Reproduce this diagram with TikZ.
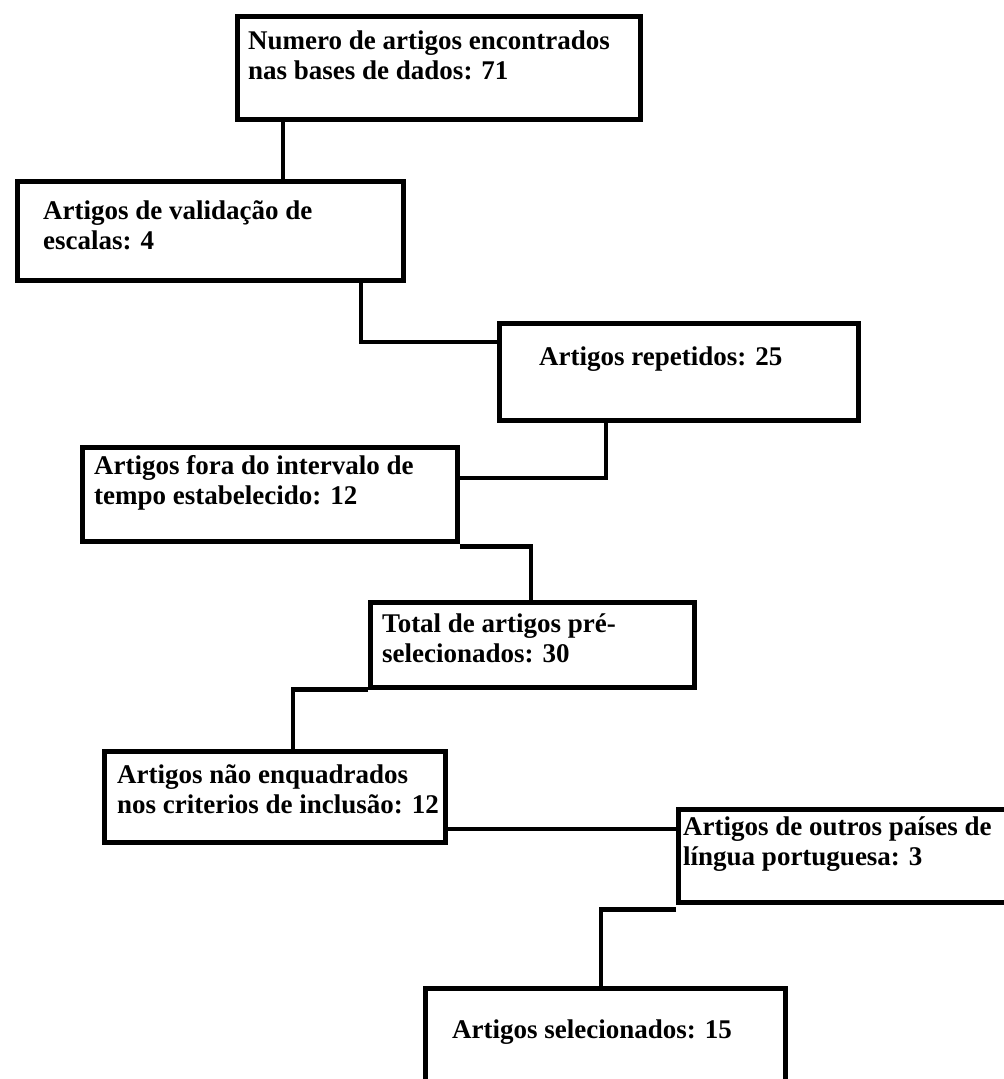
\documentclass[tikz,border=0pt]{standalone}
\usepackage{fontspec}
\setmainfont{Liberation Serif}
\begin{document}
\begin{tikzpicture}[x=1pt,y=-1pt,
  box/.style={draw,line width=4.5pt,rectangle,inner sep=0pt,anchor=north west},
  lbl/.style={anchor=north west,inner sep=0pt,align=left,font=\bfseries\fontsize{27}{30}\selectfont},
  link/.style={line width=4.5pt}]
\useasboundingbox (0,0) rectangle (1004,1079);
\clip (0,0) rectangle (1004,1079);
% boxes
\node[box,minimum width=403pt,minimum height=103pt] (b1) at (235,14) {};
\node[box,minimum width=386pt,minimum height=99pt]  (b2) at (15,179) {};
\node[box,minimum width=359pt,minimum height=97pt]  (b3) at (497,321) {};
\node[box,minimum width=375pt,minimum height=94pt]  (b4) at (80,445) {};
\node[box,minimum width=324pt,minimum height=85pt]  (b5) at (368,600) {};
\node[box,minimum width=341pt,minimum height=91pt]  (b6) at (102,749) {};
\node[box,minimum width=340pt,minimum height=93pt]  (b7) at (676,807) {};
\node[box,minimum width=360pt,minimum height=110pt] (b8) at (423,986) {};
% texts
\node[lbl] (t1) at (248,29)  {\rule{0pt}{20pt}Numero de artigos encontrados\\nas bases de dados: 71};
\node[lbl] (t2) at (43,199)  {\rule{0pt}{20pt}Artigos de validação de\\escalas: 4};
\node[lbl] (t3) at (539,345) {\rule{0pt}{20pt}Artigos repetidos: 25};
\node[lbl] (t4) at (94,454)  {\rule{0pt}{20pt}Artigos fora do intervalo de\\tempo estabelecido: 12};
\node[lbl] (t5) at (382,612) {\rule{0pt}{20pt}Total de artigos pré-\\selecionados: 30};
\node[lbl] (t6) at (117,763) {\rule{0pt}{20pt}Artigos não enquadrados\\nos criterios de inclusão: 12};
\node[lbl] (t7) at (683,815) {\rule{0pt}{20pt}Artigos de outros países de\\língua portuguesa: 3};
\node[lbl] (t8) at (452,1018) {\rule{0pt}{20pt}Artigos selecionados: 15};
% connectors
\coordinate (k1) at ([xshift=48pt]b1.south west);
\draw[link] (k1) -- (k1 |- b2.north);
\coordinate (k2) at ([xshift=346pt]b2.south west);
\coordinate (k2b) at ([yshift=-21pt]b3.north west);
\draw[link] (k2) |- (k2b);
\coordinate (k3) at ([xshift=109pt]b3.south west);
\coordinate (k3b) at ([yshift=-33pt]b4.north east);
\draw[link] (k3) |- (k3b);
\coordinate (k4) at ([yshift=-3pt]b4.south east);
\coordinate (k4b) at ([xshift=163pt]b5.north west);
\draw[link] (k4) -| (k4b);
\coordinate (k5) at ([xshift=191pt]b6.north west);
\draw[link] (b5.south west) -| (k5);
\coordinate (k6) at ([yshift=-80pt]b6.north east);
\draw[link] (k6) -- (k6 -| b7.west);
\coordinate (k7) at ([yshift=-5pt]b7.south west);
\coordinate (k7b) at ([xshift=178pt]b8.north west);
\draw[link] (k7) -| (k7b);
\end{tikzpicture}
\end{document}
